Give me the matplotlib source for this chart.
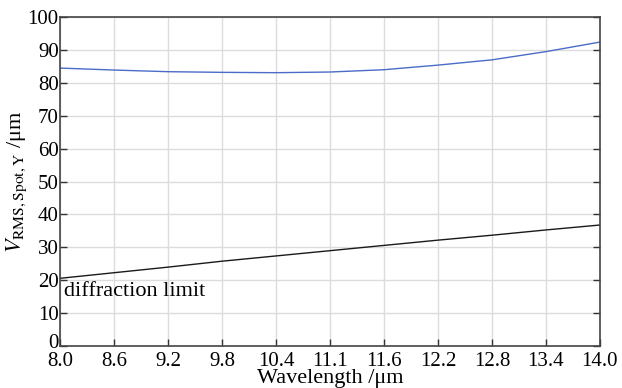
import matplotlib
matplotlib.use("Agg")
import matplotlib.pyplot as plt
import matplotlib.transforms as mtransforms

# wavelength samples (um) and spot RMS values
wavelength = [8.0, 8.6, 9.2, 9.8, 10.4, 11.0, 11.6, 12.2, 12.8, 13.4, 14.0]
rms_spot_y = [84.5, 83.9, 83.4, 83.2, 83.1, 83.3, 84.0, 85.4, 87.0, 89.5, 92.4]
diffraction = [20.6, 22.3, 24.0, 25.8, 27.4, 29.0, 30.6, 32.2, 33.7, 35.3, 36.8]

xtick_labels = ["8.0", "8.6", "9.2", "9.8", "10.4", "11.1", "11.6",
                "12.2", "12.8", "13.4", "14.0"]
yticks = [0, 10, 20, 30, 40, 50, 60, 70, 80, 90, 100]

plt.rcParams["font.family"] = ["Liberation Serif", "DejaVu Serif"]
plt.rcParams["mathtext.fontset"] = "stix"

fig = plt.figure(figsize=(6.22, 3.88), dpi=100)
ax = fig.add_axes([0.0965, 0.108, 0.868, 0.848])

ax.plot(wavelength, rms_spot_y, color="#4a6cc8", lw=1.0)
ax.plot(wavelength, diffraction, color="#1a1a1a", lw=1.0)

ax.set_xlim(8.0, 14.0)
ax.set_ylim(0, 100)
ax.set_xticks(wavelength)
ax.set_xticklabels(xtick_labels)
ax.set_yticks(yticks)

ax.grid(True, color="#dcdcdc", lw=1.0)
ax.set_axisbelow(True)

for side in ["left", "bottom", "right", "top"]:
    ax.spines[side].set_color("#444444")
    ax.spines[side].set_linewidth(1.2)

ax.tick_params(axis="both", direction="in", length=5, width=1.0,
               color="#333333", labelsize=15, pad=1)
ax.tick_params(axis="x", pad=4)
ax.tick_params(axis="y", right=True, labelright=False)

# the "0" label sits a little above its tick in the original
fig.canvas.draw()
zero = ax.get_yticklabels()[0]
zero.set_transform(zero.get_transform() +
                   mtransforms.ScaledTranslation(0, 5 / 100, fig.dpi_scale_trans))

ax.text(8.04, 16.5, "diffraction limit", fontsize=16, va="center", ha="left")

ax.set_xlabel("Wavelength /μm", fontsize=16, labelpad=-1)
ax.set_ylabel(r"$V_{\mathrm{RMS,Spot,Y}}$ /μm", fontsize=16, labelpad=-1)

fig.savefig("out.png", dpi=100)
